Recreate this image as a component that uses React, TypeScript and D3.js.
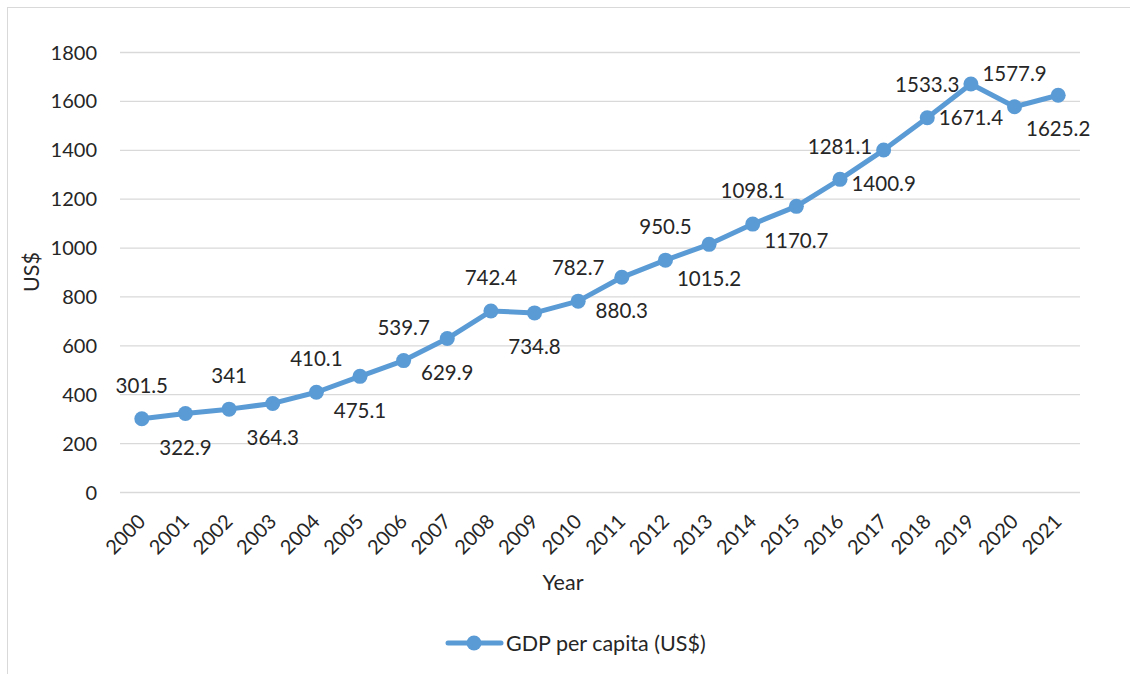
import React from "react";
import * as d3 from "d3";

const years = ["2000","2001","2002","2003","2004","2005","2006","2007","2008","2009","2010","2011","2012","2013","2014","2015","2016","2017","2018","2019","2020","2021"];
const gdp = [301.5,322.9,341,364.3,410.1,475.1,539.7,629.9,742.4,734.8,782.7,880.3,950.5,1015.2,1098.1,1170.7,1281.1,1400.9,1533.3,1671.4,1577.9,1625.2];
const yTicks = [0,200,400,600,800,1000,1200,1400,1600,1800];
const seriesName = "GDP per capita (US$)";

const W = 1130, H = 674;
const FONT = "Lato, 'Open Sans', sans-serif";
const COLOR = "#5B9BD5";

export default function App() {
  const x = d3.scaleBand<string>().domain(years).range([120, 1080]);
  const y = d3.scaleLinear().domain([0, 1800]).range([492.5, 52.5]);
  const cx = (d: string) => (x(d) as number) + x.bandwidth() / 2;
  const line = d3.line<number>().x((_, i) => cx(years[i])).y((v) => y(v));
  return (
    <svg width={W} height={H} style={{ position: "absolute", left: 0, top: 0 }} fontFamily={FONT}>
      <rect x={0} y={0} width={W} height={H} fill="#fff" />
      <rect x={7.5} y={7.5} width={W} height={H} fill="none" stroke="#d9d9d9" strokeWidth={1} />
      {yTicks.map((t) => (
        <g key={t}>
          <line x1={120} x2={1080} y1={y(t)} y2={y(t)} stroke="#d9d9d9" strokeWidth={1.3} />
          <text x={97} y={y(t)} dy="0.35em" textAnchor="end" fontSize={20} fill="#262626">{t}</text>
        </g>
      ))}
      {years.map((yr) => (
        <text key={yr} transform={`translate(${cx(yr) - 5},${513}) rotate(-45)`} textAnchor="end" dy="0.7em" fontSize={20} fill="#262626">{yr}</text>
      ))}
      <path d={line(gdp) || ""} fill="none" stroke={COLOR} strokeWidth={5} strokeLinejoin="round" strokeLinecap="round" />
      {gdp.map((v, i) => (
        <circle key={i} cx={cx(years[i])} cy={y(v)} r={7.5} fill={COLOR} />
      ))}
      {gdp.map((v, i) => (
        <text key={"l" + i} x={cx(years[i])} y={y(v) + (i % 2 === 0 ? -33 : 34)} dy="0.35em" textAnchor="middle" fontSize={20.5} fill="#262626">{v}</text>
      ))}
      <text transform={`translate(31,${272}) rotate(-90)`} textAnchor="middle" dy="0.35em" fontSize={21.5} fill="#262626">US$</text>
      <text x={563} y={582} dy="0.35em" textAnchor="middle" fontSize={21.5} fill="#262626">Year</text>
      <line x1={448} x2={501} y1={643} y2={643} stroke={COLOR} strokeWidth={5} strokeLinecap="round" />
      <circle cx={474} cy={643} r={7.5} fill={COLOR} />
      <text x={506} y={643} dy="0.35em" fontSize={21.5} fill="#262626">{seriesName}</text>
    </svg>
  );
}
